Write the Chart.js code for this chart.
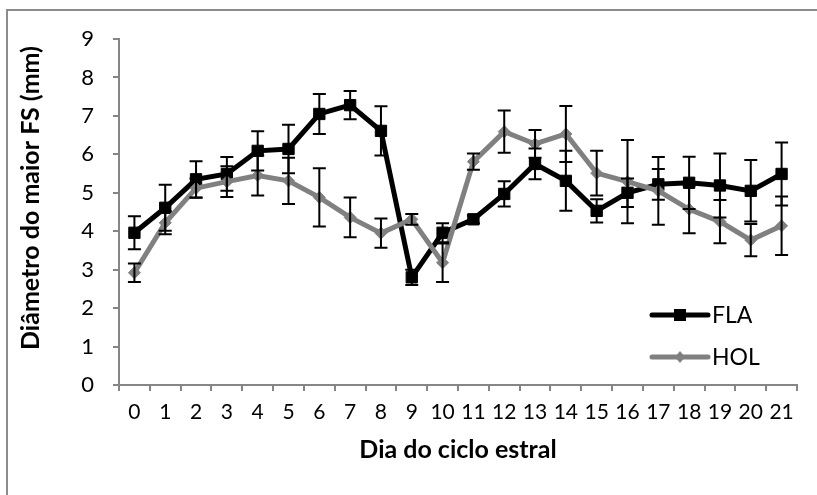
<!DOCTYPE html>
<html>
<head>
<meta charset="utf-8">
<script src="https://cdn.jsdelivr.net/npm/chart.js@4.4.1/dist/chart.umd.min.js"></script>
<style>
  html, body { margin: 0; padding: 0; background: #ffffff; }
  #wrap { position: relative; width: 817px; height: 495px; }
</style>
</head>
<body>
<div id="wrap"><canvas id="c" width="817" height="495"></canvas></div>
<script>
// ---- Data ----
const days = ['0','1','2','3','4','5','6','7','8','9','10','11','12','13','14','15','16','17','18','19','20','21'];
const FLA = [3.96, 4.61, 5.35, 5.49, 6.09, 6.14, 7.05, 7.28, 6.61, 2.80, 3.96, 4.31, 4.97, 5.75, 5.31, 4.53, 5.00, 5.22, 5.26, 5.19, 5.05, 5.49];
const FLA_err = [0.43, 0.60, 0.47, 0.44, 0.51, 0.63, 0.52, 0.37, 0.64, 0.20, 0.25, 0.10, 0.33, 0.40, 0.78, 0.30, 0.37, 0.40, 0.68, 0.83, 0.80, 0.82];
const HOL = [2.92, 4.22, 5.12, 5.29, 5.45, 5.31, 4.88, 4.36, 3.95, 4.31, 3.18, 5.81, 6.59, 6.27, 6.53, 5.51, 5.29, 5.05, 4.57, 4.25, 3.77, 4.14];
const HOL_err = [0.24, 0.30, 0.25, 0.40, 0.52, 0.60, 0.76, 0.52, 0.38, 0.14, 0.50, 0.21, 0.55, 0.36, 0.73, 0.58, 1.08, 0.88, 0.62, 0.56, 0.42, 0.76];
const yTicks = [0,1,2,3,4,5,6,7,8,9];
const xTitle = 'Dia do ciclo estral';
const yTitle = 'Diâmetro do maior FS (mm)';

const AXIS_GRAY = '#868686';
const FONT = 'Lato, "Open Sans", "DejaVu Sans", sans-serif';

// Frame (top + left border of the chart object)
const framePlugin = {
  id: 'frame',
  beforeDraw(chart) {
    const ctx = chart.ctx;
    ctx.save();
    ctx.strokeStyle = '#8c8c8c';
    ctx.lineWidth = 2;
    ctx.beginPath();
    ctx.moveTo(7, chart.height);
    ctx.lineTo(7, 10);
    ctx.lineTo(chart.width, 10);
    ctx.stroke();
    ctx.restore();
  }
};

// Vertical axis title (placed as in the reference, slightly above the plot centre)
const yTitlePlugin = {
  id: 'yTitle',
  afterDraw(chart) {
    const ctx = chart.ctx;
    ctx.save();
    ctx.translate(31, 198);
    ctx.rotate(-Math.PI / 2);
    ctx.fillStyle = '#000000';
    ctx.font = 'bold 25px ' + FONT;
    ctx.textAlign = 'center';
    ctx.textBaseline = 'middle';
    ctx.fillText(yTitle, 0, 0);
    ctx.restore();
  }
};

// Error bars drawn from dataset values through the y scale
const errorBarPlugin = {
  id: 'errorBars',
  afterDatasetsDraw(chart) {
    const ctx = chart.ctx;
    const ys = chart.scales.y;
    ctx.save();
    ctx.strokeStyle = '#000000';
    ctx.lineWidth = 2;
    chart.data.datasets.forEach((ds, i) => {
      const meta = chart.getDatasetMeta(i);
      if (!ds.errors) return;
      meta.data.forEach((pt, j) => {
        const v = ds.data[j], e = ds.errors[j];
        const x = pt.x;
        const yt = ys.getPixelForValue(v + e);
        const yb = ys.getPixelForValue(v - e);
        const cap = 6.5;
        ctx.beginPath();
        ctx.moveTo(x, yt); ctx.lineTo(x, yb);
        ctx.moveTo(x - cap, yt); ctx.lineTo(x + cap, yt);
        ctx.moveTo(x - cap, yb); ctx.lineTo(x + cap, yb);
        ctx.stroke();
      });
    });
    ctx.restore();
  }
};

// Legend placed inside the plot, lower right (as in the reference)
const legendPlugin = {
  id: 'insideLegend',
  afterDraw(chart) {
    const ctx = chart.ctx;
    const ca = chart.chartArea;
    const x0 = ca.right - 145, x1 = ca.right - 89;
    const rows = [ca.bottom - 70, ca.bottom - 28];
    ctx.save();
    chart.data.datasets.forEach((ds, i) => {
      const y = rows[i];
      ctx.strokeStyle = ds.borderColor;
      ctx.lineWidth = 5;
      ctx.lineCap = 'round';
      ctx.beginPath();
      ctx.moveTo(x0, y); ctx.lineTo(x1, y); ctx.stroke();
      const cx = (x0 + x1) / 2;
      ctx.fillStyle = ds.pointBackgroundColor;
      if (ds.pointStyle === 'rect') {
        ctx.fillRect(cx - 6, y - 6, 12, 12);
      } else {
        ctx.beginPath();
        ctx.moveTo(cx, y - 6); ctx.lineTo(cx + 5, y); ctx.lineTo(cx, y + 6); ctx.lineTo(cx - 5, y);
        ctx.closePath(); ctx.fill();
      }
      ctx.fillStyle = '#000000';
      ctx.font = '23px ' + FONT;
      ctx.textBaseline = 'middle';
      ctx.textAlign = 'left';
      ctx.fillText(ds.label, x1 + 4, y + 1);
    });
    ctx.restore();
  }
};

new Chart(document.getElementById('c'), {
  type: 'line',
  data: {
    labels: days,
    datasets: [
      {
        label: 'FLA',
        data: FLA,
        errors: FLA_err,
        borderColor: '#000000',
        backgroundColor: '#000000',
        borderWidth: 5,
        pointStyle: 'rect',
        pointRadius: 8,
        pointBorderWidth: 1,
        pointBackgroundColor: '#000000',
        pointBorderColor: '#000000',
        tension: 0,
        order: 1
      },
      {
        label: 'HOL',
        data: HOL,
        errors: HOL_err,
        borderColor: '#808080',
        backgroundColor: '#808080',
        borderWidth: 5,
        pointStyle: 'rectRot',
        pointRadius: 6,
        pointBorderWidth: 1,
        pointBackgroundColor: '#808080',
        pointBorderColor: '#808080',
        tension: 0,
        order: 0
      }
    ]
  },
  options: {
    responsive: false,
    animation: false,
    devicePixelRatio: 1,
    layout: { padding: { top: 39, right: 20, left: 0, bottom: 0 } },
    plugins: {
      legend: { display: false },
      tooltip: { enabled: false },
      title: { display: false }
    },
    scales: {
      x: {
        type: 'category',
        offset: true,
        grid: {
          offset: true,
          drawOnChartArea: false,
          drawTicks: true,
          tickLength: 6,
          color: AXIS_GRAY,
          lineWidth: 2
        },
        border: { display: true, color: AXIS_GRAY, width: 2 },
        ticks: {
          color: '#000000',
          font: { family: FONT, size: 21 },
          padding: 9,
          maxRotation: 0,
          autoSkip: false
        },
        title: {
          display: true,
          text: xTitle,
          color: '#000000',
          font: { family: FONT, size: 25, weight: 'bold' },
          padding: { top: 0, bottom: 30 }
        },
        afterFit(scale) { scale.height = 110; }
      },
      y: {
        min: 0,
        max: 9,
        afterBuildTicks(scale) { scale.ticks = yTicks.map(v => ({ value: v })); },
        grid: {
          drawOnChartArea: false,
          drawTicks: true,
          tickLength: 6,
          color: AXIS_GRAY,
          lineWidth: 2
        },
        border: { display: true, color: AXIS_GRAY, width: 2 },
        ticks: {
          color: '#000000',
          font: { family: FONT, size: 22 },
          padding: 19
        },
        title: { display: false },
        afterFit(scale) { scale.width = 119; }
      }
    }
  },
  plugins: [framePlugin, yTitlePlugin, errorBarPlugin, legendPlugin]
});
</script>
</body>
</html>
